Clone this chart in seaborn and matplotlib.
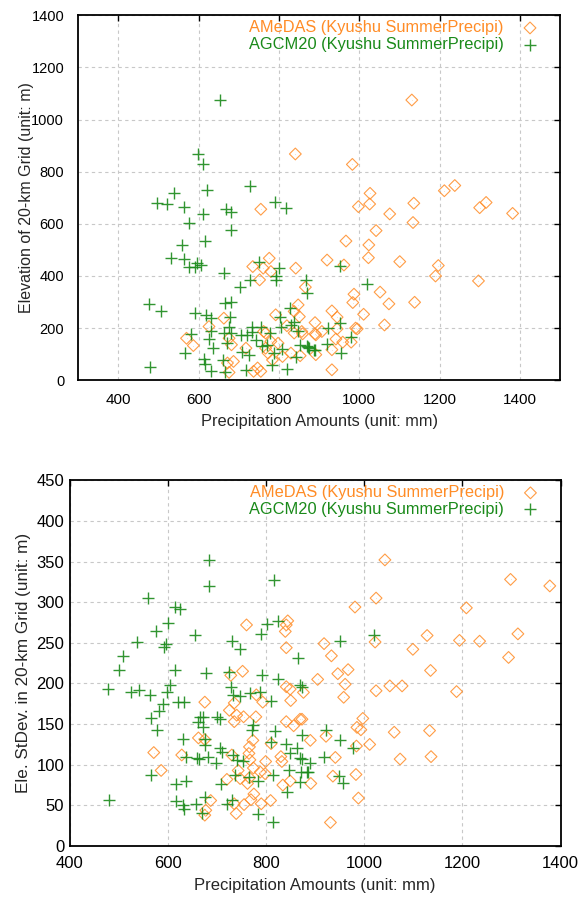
import numpy as np
import pandas as pd
import matplotlib
matplotlib.use('Agg')
import matplotlib.pyplot as plt
import seaborn as sns

# ---- data ----
# top panel: elevation of grid
amedas_elev_x = [841, 1131, 983, 1027, 1212, 1238, 998, 1026, 1136, 1076, 1300, 1316, 1382, 1134, 1042,
                 967, 1024, 920, 962, 1023, 1101, 1197, 1190, 1297, 866, 1052, 987, 984, 1074, 1138, 1011,
                 932, 945, 1063, 890, 890, 907, 991, 995, 945, 942, 959, 980, 932, 892, 932, 859,
                 755, 776, 735, 761, 752, 780, 842, 848, 838, 792, 851, 820, 663, 626, 570, 587, 676,
                 682, 687, 672, 676, 737, 747, 755, 767, 773, 784, 798, 809, 830, 853, 857, 838, 762,
                 718, 767, 780, 892]
amedas_elev_y = [868, 1075, 828, 717, 727, 747, 666, 676, 679, 638, 662, 682, 640, 605, 574,
                 534, 519, 461, 442, 470, 455, 440, 400, 381, 357, 338, 330, 298, 293, 299, 253,
                 266, 242, 212, 221, 178, 187, 200, 197, 197, 158, 146, 146, 117, 98, 40, 178,
                 656, 468, 436, 430, 385, 417, 430, 289, 264, 251, 244, 209, 238, 206, 161, 133, 161,
                 136, 72, 66, 30, 34, 47, 34, 123, 104, 78, 142, 91, 104, 94, 187, 181, 187,
                 123, 181, 149, 174]
agcm_elev_x = [653, 598, 611, 622, 538, 729, 497, 522, 565, 669, 682, 611, 791, 818, 577, 682, 615,
               560, 532, 563, 597, 577, 590, 605, 750, 663, 801, 792, 792, 727, 703, 867, 869, 476,
               507, 592, 619, 632, 667, 681, 679, 827, 803, 838, 582, 566, 613, 616, 478, 632, 637,
               661, 665, 625, 632, 663, 672, 676, 682, 705, 720, 732, 732, 742, 709, 726, 719, 755,
               759, 770, 778, 782, 787, 805, 807, 819, 830, 842, 848, 853, 872, 876, 891, 951, 1020,
               870, 888, 920, 923, 952, 955, 980]
agcm_elev_y = [1075, 868, 828, 729, 720, 745, 679, 676, 663, 656, 644, 638, 682, 661, 605, 576, 536,
               518, 470, 465, 451, 433, 433, 442, 455, 413, 432, 400, 385, 385, 358, 385, 334, 292,
               265, 257, 251, 238, 298, 302, 244, 279, 244, 225, 178, 104, 82, 62, 50, 36, 123,
               78, 31, 158, 187, 183, 142, 206, 181, 174, 174, 206, 184, 155, 110, 98, 38, 206,
               130, 136, 181, 59, 104, 206, 119, 44, 213, 91, 187, 136, 129, 123, 117, 440, 370,
               130, 117, 138, 200, 221, 104, 165]

# bottom panel: elevation standard deviation
amedas_sd_x = [760, 844, 841, 839, 841, 1042, 1298, 1378, 1024, 981, 1208, 1128, 1313, 1194, 1235, 918,
               1022, 1099, 933, 1294, 1135, 946, 967, 905, 961, 876, 958, 1024, 1052, 1077, 1188, 873,
               997, 985, 993, 1061, 1133, 890, 922, 984, 1011, 941, 1073, 1136, 936, 983, 891, 988,
               931, 752, 728, 841, 849, 780, 793, 850, 675, 735, 725, 740, 754, 779, 735, 841, 856,
               869, 662, 675, 773, 810, 766, 765, 571, 628, 730, 767, 799, 830, 832, 586, 743, 774,
               788, 798, 720, 747, 762, 766, 834, 849, 775, 769, 687, 809, 790, 735, 755, 677, 675, 739]
amedas_sd_y = [272, 277, 272, 264, 244, 352, 328, 320, 305, 294, 293, 259, 261, 253, 252, 249,
               251, 242, 234, 232, 216, 212, 217, 205, 199, 189, 183, 191, 197, 197, 190, 156,
               157, 146, 143, 140, 142, 130, 135, 123, 125, 109, 107, 110, 86, 88, 77, 59,
               29, 215, 210, 196, 193, 186, 177, 179, 177, 176, 167, 161, 159, 159, 153, 153, 148,
               156, 133, 131, 130, 126, 122, 114, 115, 112, 112, 106, 104, 110, 104, 93, 93, 96,
               91, 89, 82, 83, 77, 84, 75, 80, 64, 57, 56, 56, 52, 52, 51, 44, 38, 40]
agcm_sd_x = [684, 684, 815, 560, 614, 624, 825, 801, 599, 575, 655, 790, 536, 731, 596, 592, 747, 509,
             864, 950, 1020, 500, 614, 677, 724, 792, 824, 478, 524, 541, 563, 605, 597, 728, 733, 747,
             767, 788, 809, 868, 621, 633, 590, 582, 565, 578, 665, 671, 662, 672, 699, 705, 774, 771,
             818, 809, 631, 675, 675, 706, 711, 732, 636, 660, 664, 682, 698, 740, 752, 840, 849, 862,
             869, 890, 883, 871, 847, 868, 842, 565, 637, 616, 709, 737, 766, 784, 813, 480, 616, 630,
             633, 658, 675, 669, 720, 730, 784, 813, 922, 950, 978, 918, 873, 886, 948, 956, 873, 873]
agcm_sd_y = [352, 320, 327, 305, 294, 292, 277, 273, 274, 264, 259, 261, 251, 252, 249, 245, 242, 234,
             231, 252, 259, 216, 217, 213, 214, 211, 206, 193, 190, 192, 186, 198, 190, 196, 186, 184,
             188, 190, 179, 198, 177, 177, 175, 166, 157, 143, 159, 159, 153, 147, 159, 156, 149, 143,
             141, 128, 132, 132, 124, 121, 116, 112, 109, 108, 107, 110, 102, 106, 105, 125, 114, 121,
             108, 102, 91, 91, 94, 79, 66, 87, 80, 76, 76, 87, 85, 80, 87, 57, 55, 51,
             46, 52, 60, 41, 52, 57, 39, 30, 143, 130, 121, 110, 107, 91, 86, 77, 196, 136]

label_amedas = 'AMeDAS (Kyushu SummerPrecipi)'
label_agcm = 'AGCM20 (Kyushu SummerPrecipi)'
orange = '#ff8c26'
green = '#1a8a1a'

sns.set_style('white')
plt.rcParams['font.family'] = ['Liberation Sans', 'DejaVu Sans']

fig = plt.figure(figsize=(5.87, 9.01), dpi=100)
ax_top = fig.add_axes([0.133, 0.578, 0.821, 0.405])
ax_bot = fig.add_axes([0.119, 0.061, 0.836, 0.406])


def draw_panel(ax, ax_x, ay_y, gx, gy):
    df_a = pd.DataFrame({'x': ax_x, 'y': ay_y})
    df_g = pd.DataFrame({'x': gx, 'y': gy})
    sns.scatterplot(data=df_a, x='x', y='y', ax=ax, marker='D', s=36, facecolor='none',
                    edgecolor=orange, linewidth=0.8, alpha=0.85, label=label_amedas, zorder=3)
    sns.scatterplot(data=df_a, x='x', y='y', ax=ax, marker='.', s=1.5, color=orange,
                    linewidth=0, legend=False, zorder=3)
    sns.scatterplot(data=df_g, x='x', y='y', ax=ax, marker='+', s=65, color=green,
                    linewidth=1.0, alpha=0.9, label=label_agcm, zorder=4)
    ax.grid(True, linestyle=(0, (3, 3)), color='#c8c8c8', linewidth=0.8)
    ax.set_axisbelow(True)
    for sp in ax.spines.values():
        sp.set_color('black')
        sp.set_linewidth(1.3)
    ax.tick_params(direction='in', length=4, width=1, top=True, right=True, colors='black')
    ax.legend(loc='upper right', bbox_to_anchor=(0.982, 1.0), frameon=False,
              markerfirst=False, fontsize=11.8, handletextpad=0.6, borderaxespad=0.1,
              borderpad=0.2, labelspacing=0.1, labelcolor=[orange, green])


draw_panel(ax_top, amedas_elev_x, amedas_elev_y, agcm_elev_x, agcm_elev_y)
ax_top.set_xlim(300, 1500)
ax_top.set_ylim(0, 1400)
ax_top.set_xticks(np.arange(400, 1401, 200))
ax_top.set_yticks(np.arange(0, 1401, 200))
ax_top.tick_params(axis='x', labelsize=11, pad=9)
ax_top.tick_params(axis='y', labelsize=10.5, pad=10)
ax_top.set_xlabel('Precipitation Amounts (unit: mm)', fontsize=11.8, labelpad=5)
ax_top.set_ylabel('Elevation of 20-km Grid (unit: m)', fontsize=11.5, labelpad=-2)

draw_panel(ax_bot, amedas_sd_x, amedas_sd_y, agcm_sd_x, agcm_sd_y)
ax_bot.set_xlim(400, 1400)
ax_bot.set_ylim(0, 450)
ax_bot.set_xticks(np.arange(400, 1401, 200))
ax_bot.set_yticks(np.arange(0, 451, 50))
ax_bot.tick_params(axis='x', labelsize=12, pad=7)
ax_bot.tick_params(axis='y', labelsize=12, pad=4)
ax_bot.set_xlabel('Precipitation Amounts (unit: mm)', fontsize=12, labelpad=5)
ax_bot.set_ylabel('Ele. StDev. in 20-km Grid (unit: m)', fontsize=12.3, labelpad=4)

fig.savefig('out.png', dpi=100)
